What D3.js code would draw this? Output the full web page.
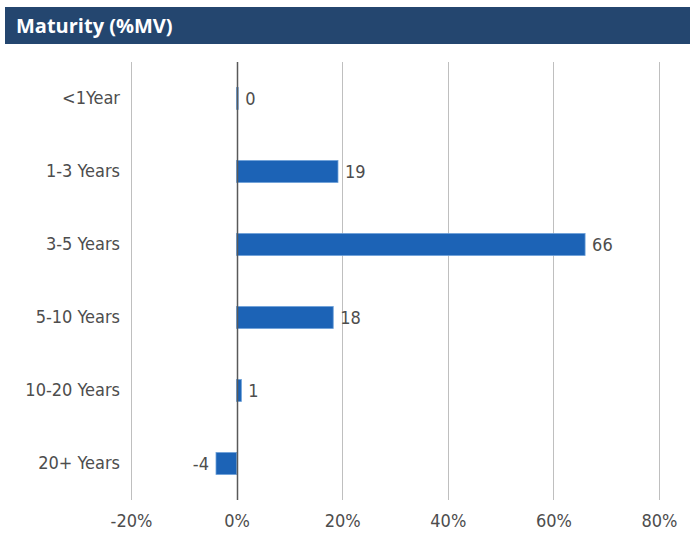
<!DOCTYPE html>
<html>
<head>
<meta charset="utf-8">
<script src="https://cdn.jsdelivr.net/npm/d3@7"></script>
<style>
  body { margin: 0; background: #fff; }
  #chart text { font-family: "Liberation Sans Narrow", "DejaVu Sans Condensed", sans-serif; }
</style>
</head>
<body>
<div id="chart"></div>
<script>
// data
var categories = ["<1Year", "1-3 Years", "3-5 Years", "5-10 Years", "10-20 Years", "20+ Years"];
var values = [0.3, 19.2, 66, 18.3, 0.9, -3.9];
var xTicks = [-20, 0, 20, 40, 60, 80];
var title = "Maturity (%MV)";

var W = 693, H = 539;
var margin = {top: 62, right: 34, bottom: 39, left: 131},
    width = W - margin.left - margin.right,
    height = H - margin.top - margin.bottom;

var svg = d3.select("#chart").append("svg")
    .attr("width", W)
    .attr("height", H);

// header bar
svg.append("rect")
    .attr("x", 5).attr("y", 7)
    .attr("width", 685).attr("height", 37)
    .attr("fill", "#24466f");
svg.append("text")
    .attr("x", 16).attr("y", 33)
    .attr("fill", "#fff")
    .style("font-family", "'Open Sans', sans-serif")
    .style("font-weight", "bold")
    .style("font-size", "20px")
    .text(title);

var g = svg.append("g")
    .attr("transform", "translate(" + margin.left + "," + margin.top + ")");

var x = d3.scaleLinear().domain([-20, 80]).range([0, 528]);
var y = d3.scaleBand().domain(categories).range([0, height]).paddingInner(0.7).paddingOuter(0.35);

// plain hyphen for negatives, like the original
var fmt = function(d) { return String(Math.round(d)); };

// gridlines
g.selectAll(".grid")
    .data(xTicks.filter(function(d) { return d !== 0; }))
    .enter().append("line")
    .attr("x1", function(d) { return Math.round(x(d)) + 0.5; })
    .attr("x2", function(d) { return Math.round(x(d)) + 0.5; })
    .attr("y1", 0).attr("y2", height)
    .attr("stroke", "#bfbfbf");

// bars
g.selectAll(".bar")
    .data(values)
    .enter().append("rect")
    .attr("x", function(d) { return x(Math.min(0, d)); })
    .attr("y", function(d, i) { return y(categories[i]); })
    .attr("width", function(d) { return Math.abs(x(d) - x(0)); })
    .attr("height", y.bandwidth())
    .attr("fill", "#1c63b6")
    .attr("stroke", "#6a9fd8")
    .attr("stroke-width", 0.8);

// zero line
g.append("line")
    .attr("x1", Math.round(x(0)) + 0.5).attr("x2", Math.round(x(0)) + 0.5)
    .attr("y1", 0).attr("y2", height)
    .attr("stroke", "#595959").attr("stroke-width", 1.5);

// value labels
g.selectAll(".val")
    .data(values)
    .enter().append("text")
    .attr("x", function(d) { return d >= 0 ? x(d) + 7 : x(d) - 7; })
    .attr("y", function(d, i) { return y(categories[i]) + y.bandwidth() / 2; })
    .attr("dy", "0.35em")
    .attr("text-anchor", function(d) { return d >= 0 ? "start" : "end"; })
    .attr("fill", "#4d4d4d")
    .style("font-size", "18px")
    .text(fmt);

// category axis
var yAxis = g.append("g")
    .call(d3.axisLeft(y).tickSize(0).tickPadding(11));
yAxis.select(".domain").remove();
yAxis.selectAll("text")
    .attr("fill", "#4d4d4d")
    .style("font-size", "18px");

// x axis
var xAxis = g.append("g")
    .attr("transform", "translate(0," + height + ")")
    .call(d3.axisBottom(x).tickValues(xTicks).tickSize(0).tickPadding(14)
        .tickFormat(function(d) { return fmt(d) + "%"; }));
xAxis.select(".domain").remove();
xAxis.selectAll("text")
    .attr("fill", "#4d4d4d")
    .style("font-size", "18px");
</script>
</body>
</html>
